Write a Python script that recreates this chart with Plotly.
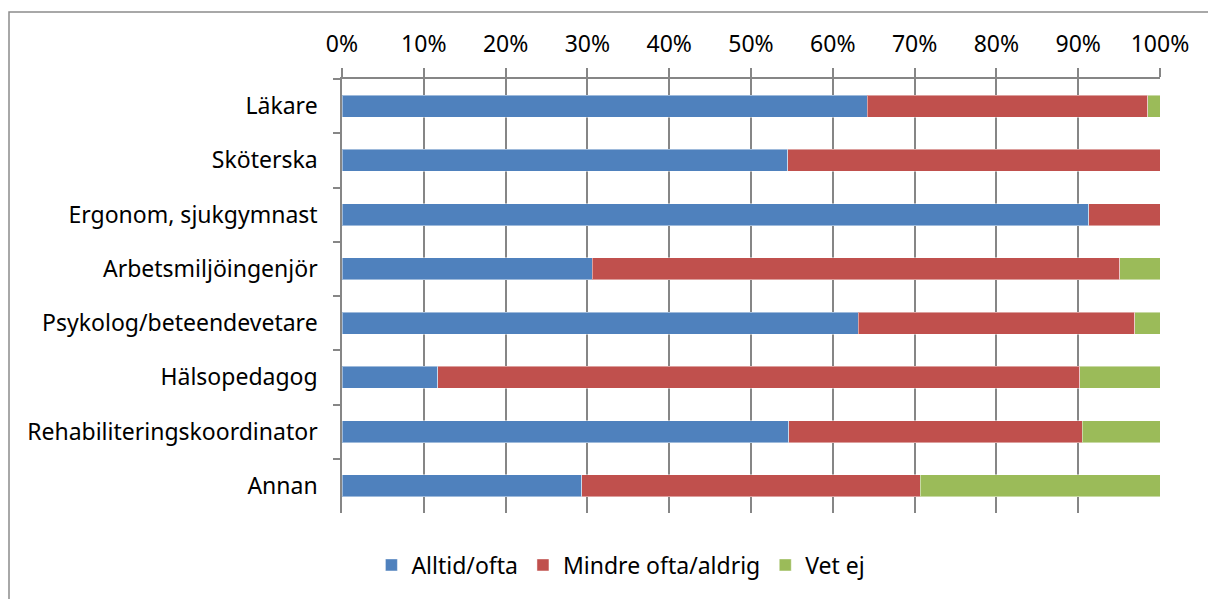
import plotly.graph_objects as go

categories = ["Läkare", "Sköterska", "Ergonom, sjukgymnast", "Arbetsmiljöingenjör",
              "Psykolog/beteendevetare", "Hälsopedagog", "Rehabiliteringskoordinator", "Annan"]
alltid_ofta = [64.2, 54.5, 91.3, 30.6, 63.1, 11.7, 54.6, 29.3]
mindre_ofta = [34.3, 45.5, 8.7, 64.5, 33.8, 78.5, 35.9, 41.4]
vet_ej = [1.5, 0.0, 0.0, 4.9, 3.1, 9.8, 9.5, 29.3]

series_names = ["Alltid/ofta", "Mindre ofta/aldrig", "Vet ej"]
series_colors = ["#4F81BD", "#C0504D", "#9BBB59"]
series_values = [alltid_ofta, mindre_ofta, vet_ej]

W, H = 1208, 599
L, R, T, B = 342, 48, 79, 86
GRID = "#868686"
FONT = dict(family="Noto Sans", size=23, color="#000000")

fig = go.Figure()
for name, color, vals in zip(series_names, series_colors, series_values):
    fig.add_trace(go.Bar(
        y=categories, x=vals, name=name, orientation="h",
        marker=dict(color=color, line=dict(color="rgba(255,255,255,0.45)", width=1)),
    ))

pw, ph = W - L - R, H - T - B
fig.add_shape(type="rect", xref="paper", yref="paper",
              x0=(9 - L) / pw, x1=1.3, y0=-0.5, y1=1 + (T - 12) / ph,
              line=dict(color="#8c8c8c", width=1.5), fillcolor="rgba(0,0,0,0)", layer="below")

fig.update_layout(
    width=W, height=H, autosize=False,
    margin=dict(l=L, r=R, t=T, b=B),
    barmode="stack", bargap=0.595,
    plot_bgcolor="white", paper_bgcolor="white",
    font=FONT,
    xaxis=dict(side="top", range=[0, 100], tick0=0, dtick=10, ticksuffix="%",
               showgrid=True, gridcolor=GRID, gridwidth=1.5, zeroline=False,
               showline=True, linecolor=GRID, linewidth=1.5,
               ticks="outside", ticklen=9, tickcolor=GRID, tickwidth=1.5,
               ticklabelstandoff=7, fixedrange=True),
    yaxis=dict(type="category", autorange="reversed", showgrid=False, zeroline=False,
               showline=True, linecolor=GRID, linewidth=1.5,
               ticks="outside", tickson="boundaries", ticklen=7, tickcolor=GRID, tickwidth=1.5,
               ticklabelstandoff=18, fixedrange=True),
    legend=dict(orientation="h", xref="container", yref="container",
                x=0.514, xanchor="center", y=1 - 565 / H, yanchor="middle",
                font=FONT, traceorder="normal", itemwidth=30),
    showlegend=True,
)

fig.write_html("out.html")
